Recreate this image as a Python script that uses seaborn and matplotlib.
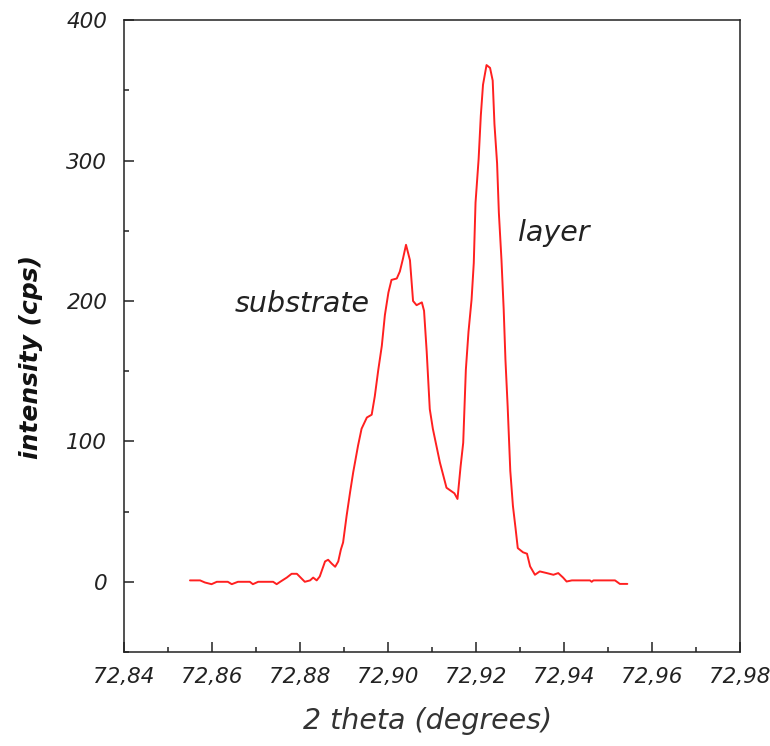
import numpy as np
import pandas as pd
import seaborn as sns
import matplotlib.pyplot as plt
from matplotlib.ticker import MultipleLocator, FixedLocator

# dados: 2 theta (graus) e intensidade (cps)
theta = [72.8550, 72.8573, 72.8584, 72.8599, 72.8611, 72.8636, 72.8645, 72.8659,
         72.8686, 72.8693, 72.8705, 72.8739, 72.8747, 72.8755, 72.8770, 72.8781,
         72.8793, 72.8811, 72.8823, 72.8830, 72.8838, 72.8845, 72.8857, 72.8864,
         72.8872, 72.8880, 72.8887, 72.8893, 72.8898, 72.8906, 72.8914, 72.8921,
         72.8932, 72.8940, 72.8952, 72.8963, 72.8970, 72.8978, 72.8986, 72.8993,
         72.9001, 72.9008, 72.9020, 72.9027, 72.9034, 72.9041, 72.9050, 72.9057,
         72.9065, 72.9077, 72.9082, 72.9088, 72.9095, 72.9102, 72.9118, 72.9133,
         72.9151, 72.9158, 72.9165, 72.9171, 72.9177, 72.9183, 72.9190, 72.9195,
         72.9199, 72.9206, 72.9211, 72.9216, 72.9224, 72.9232, 72.9238, 72.9242,
         72.9248, 72.9252, 72.9258, 72.9263, 72.9267, 72.9272, 72.9278, 72.9284,
         72.9290, 72.9295, 72.9307, 72.9316, 72.9323, 72.9334, 72.9345, 72.9361,
         72.9376, 72.9387, 72.9398, 72.9406, 72.9418, 72.9459, 72.9463, 72.9467,
         72.9516, 72.9527, 72.9544]
intensidade = [1, 1, -0.5, -1.7, 0, 0, -1.7, 0,
               0, -1.7, 0, 0, -1.7, 0, 3, 5.7,
               5.7, 0, 1, 3, 1, 3.8, 14.5, 15.7,
               13, 10.7, 14.5, 23, 28, 47, 64, 78,
               97, 109, 117, 119, 132, 151, 168, 190,
               206, 215, 216, 221, 230, 240, 229, 200,
               197, 199, 193, 164, 123, 109, 85, 67,
               63, 59, 82, 99, 151, 178, 201, 227,
               270, 301, 332, 354, 368, 366, 357, 326,
               298, 263, 229, 194, 158, 125, 79, 54,
               38, 24, 21, 20, 11, 5, 7.4, 6.2,
               5, 6.2, 3, 0.2, 1, 1, 0, 1,
               1, -1.5, -1.5]

xticks = [72.84, 72.86, 72.88, 72.90, 72.92, 72.94, 72.96, 72.98]
xtick_labels = ["72,84", "72,86", "72,88", "72,90", "72,92", "72,94", "72,96", "72,98"]
yticks = [0, 100, 200, 300, 400]

df = pd.DataFrame({"theta": theta, "intensidade": intensidade})

sns.set_style("white")
plt.rcParams["font.family"] = ["DejaVu Sans"]

fig = plt.figure(figsize=(7.7, 7.46), dpi=100)
ax = fig.add_axes([0.161, 0.126, 0.800, 0.847])

sns.lineplot(data=df, x="theta", y="intensidade", color="#ff2020", linewidth=1.4, ax=ax)

ax.set_xlim(72.84, 72.98)
ax.set_ylim(-50, 400)
ax.xaxis.set_major_locator(FixedLocator(xticks))
ax.set_xticklabels(xtick_labels)
ax.xaxis.set_minor_locator(MultipleLocator(0.01))
ax.yaxis.set_major_locator(FixedLocator(yticks))
ax.yaxis.set_minor_locator(MultipleLocator(50))

ax.tick_params(which="both", direction="in", top=False, right=False,
               bottom=True, left=True, color="#222222", width=1.1)
ax.tick_params(which="major", length=7, labelsize=15.5, labelcolor="#222222")
ax.tick_params(axis="x", which="major", pad=11)
ax.tick_params(axis="y", which="major", pad=12)
ax.tick_params(which="minor", length=3.5)
for lab in ax.get_xticklabels() + ax.get_yticklabels():
    lab.set_fontstyle("italic")

for s in ax.spines.values():
    s.set_color("#222222")
    s.set_linewidth(1.1)

ax.set_xlabel("")
ax.set_ylabel("")
fig.text(428 / 770, 1 - 721 / 746, "2 theta (degrees)", fontsize=20.5, fontstyle="italic",
         color="#333333", ha="center", va="center")
fig.text(31 / 770, 1 - 357 / 746, "intensity (cps)", fontsize=18, fontstyle="italic",
         fontweight="bold", color="#111111", rotation=90, ha="center", va="center")

ax.text(72.8652, 192, "substrate", fontsize=20.5, fontstyle="italic", color="#222222",
        va="baseline", ha="left")
ax.text(72.9295, 243, "layer", fontsize=20.5, fontstyle="italic", color="#222222",
        va="baseline", ha="left")

plt.savefig("out.png", dpi=100)
